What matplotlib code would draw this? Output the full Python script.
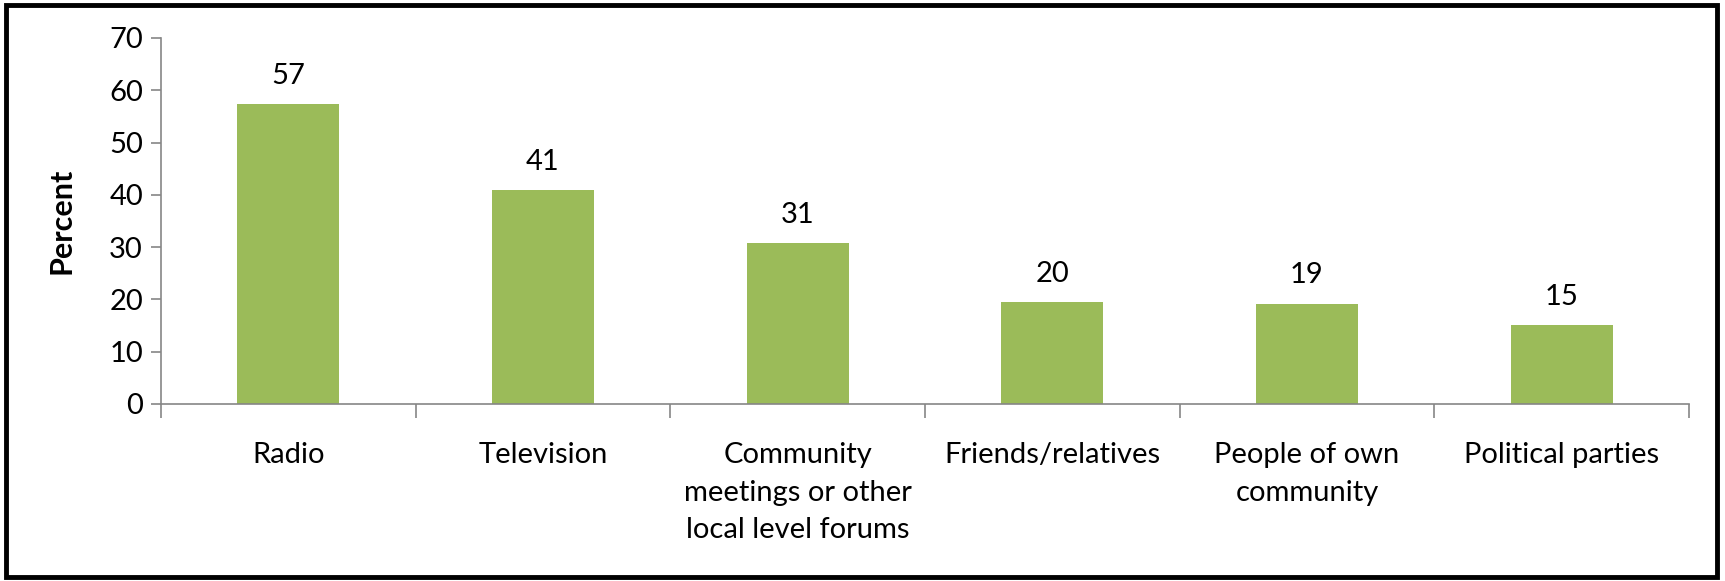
import numpy as np
import matplotlib.pyplot as plt
from matplotlib.patches import Rectangle

plt.rcParams["font.family"] = ["Lato", "DejaVu Sans"]

# Data
categories = ["Radio", "Television", "Community\nmeetings or other\nlocal level forums",
              "Friends/relatives", "People of own\ncommunity", "Political parties"]
values = [57.3, 40.9, 30.7, 19.5, 19.2, 15.1]
labels = ["57", "41", "31", "20", "19", "15"]
yticks = [0, 10, 20, 30, 40, 50, 60, 70]

W, H, DPI = 1725, 581, 100
fig = plt.figure(figsize=(W / DPI, H / DPI), dpi=DPI)

# axes box in pixels: left 161, right 1689, top 38, bottom 404
ax = fig.add_axes([161 / W, 1 - 404 / H, (1689 - 161) / W, (404 - 38) / H])

x = np.arange(len(categories))
ax.bar(x, values, width=0.4, color="#9BBB59")

for xi, v, lab in zip(x, values, labels):
    ax.text(xi, v + 2.9, lab, ha="center", va="bottom", fontsize=21)

ax.set_xlim(-0.5, len(categories) - 0.5)
ax.set_ylim(0, 70)
ax.set_yticks(yticks)
ax.tick_params(axis="y", labelsize=21, length=7, width=1.2, color="#868686", pad=6)

# category boundary ticks on x axis
ax.set_xticks(np.arange(-0.5, len(categories), 1.0))
ax.set_xticklabels([])
ax.tick_params(axis="x", length=10, width=1.2, color="#868686", direction="out")
for xi, cat in zip(x, categories):
    ax.text(xi, -7.3, cat, ha="center", va="top", fontsize=21, linespacing=1.55)

for s in ["top", "right"]:
    ax.spines[s].set_visible(False)
for s in ["left", "bottom"]:
    ax.spines[s].set_color("#868686")
    ax.spines[s].set_linewidth(1.2)

ax.set_ylabel("Percent", fontsize=22, fontweight="bold", labelpad=24)

# outer frame
fig.patches.append(Rectangle((6 / W, 4 / H), (W - 14) / W, (H - 9) / H,
                             transform=fig.transFigure, fill=False,
                             edgecolor="black", linewidth=3.5))

fig.savefig("out.png", dpi=DPI)
